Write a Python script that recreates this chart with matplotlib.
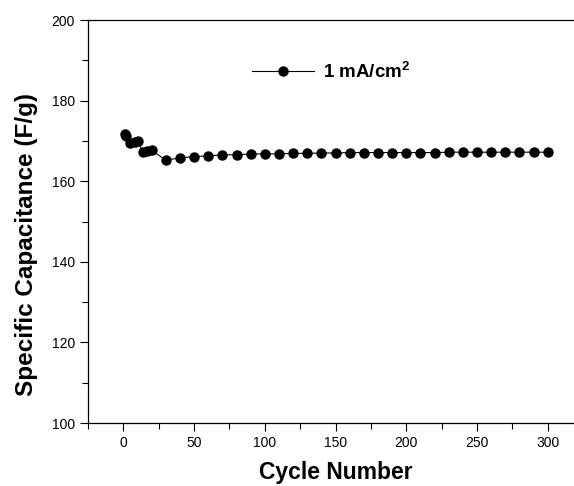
import matplotlib
matplotlib.use("Agg")
import matplotlib.pyplot as plt
from matplotlib.ticker import MultipleLocator

plt.rcParams['font.family'] = ['Liberation Sans', 'DejaVu Sans']
plt.rcParams['mathtext.fontset'] = 'custom'
plt.rcParams['mathtext.bf'] = 'Liberation Sans:bold'

cycles = [1, 2, 5, 8, 10, 14, 17, 20, 30, 40, 50, 60, 70, 80, 90, 100, 110, 120,
          130, 140, 150, 160, 170, 180, 190, 200, 210, 220, 230, 240, 250, 260,
          270, 280, 290, 300]
capacitance = [171.6, 171.2, 169.4, 169.8, 170.0, 167.2, 167.4, 167.7, 165.2,
               165.8, 166.1, 166.3, 166.5, 166.6, 166.7, 166.8, 166.8, 166.9,
               166.9, 167.0, 167.0, 167.1, 167.1, 167.1, 167.1, 167.1, 167.1,
               167.1, 167.2, 167.2, 167.2, 167.2, 167.2, 167.2, 167.2, 167.2]
series_label = r"1 mA/cm$^\mathbf{2}$"

fig = plt.figure(figsize=(5.74, 4.86), dpi=100)
ax = fig.add_axes([88/574, 63/486, 495/574, 403/486])

ax.plot(cycles, capacitance, color='black', lw=0.8, marker='o',
        markersize=6.5, label=series_label)

ax.set_xlim(-25, 325)
ax.set_ylim(100, 200)
ax.xaxis.set_major_locator(MultipleLocator(50))
ax.xaxis.set_minor_locator(MultipleLocator(25))
ax.yaxis.set_major_locator(MultipleLocator(20))
ax.yaxis.set_minor_locator(MultipleLocator(10))
ax.tick_params(which='major', direction='out', length=6, width=0.8, labelsize=10)
ax.tick_params(which='minor', direction='out', length=4, width=0.8)
ax.spines['right'].set_visible(False)
for s in ['left', 'bottom', 'top']:
    ax.spines[s].set_linewidth(0.9)

ax.set_xlabel("Cycle Number", fontsize=16.5, fontweight='bold', labelpad=8)
ax.set_ylabel("Specific Capacitance (F/g)", fontsize=17.5, fontweight='bold')
ax.yaxis.set_label_coords(-0.101, 0.444)

leg = ax.legend(loc='center left', bbox_to_anchor=(0.332, 0.873), frameon=False,
                borderpad=0, borderaxespad=0, handlelength=3.3, handletextpad=0.45,
                prop={'size': 13.5, 'weight': 'bold'})

fig.savefig("out.png", dpi=100)
